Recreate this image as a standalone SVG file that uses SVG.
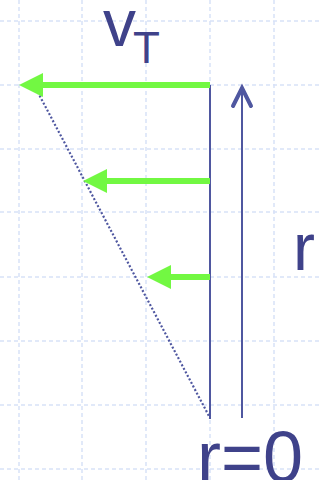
<svg xmlns="http://www.w3.org/2000/svg" width="320" height="480" viewBox="0 0 320 480">
<style>
.grid{stroke:#d8e2f8;stroke-width:1.5;stroke-dasharray:4 3;fill:none}
.blue{stroke:#4f57a0;fill:none}
.green{fill:#72f842}
.txt{font-family:"Liberation Sans",Arial,sans-serif;fill:#3f428a}
</style>
<rect width="320" height="480" fill="#ffffff"/>
<g id="grid">
<path class="grid" d="M19 0V480M82 0V480M146 0V480M210 0V480M274 0V480M0 21H320M0 85H320M0 149H320M0 212H320M0 277H320M0 341H320M0 405H320M0 469H320"/>
</g>
<g id="connectors">
<line class="blue" x1="210" y1="85" x2="210" y2="419" stroke-width="2"/>
<line class="blue" x1="34" y1="85" x2="210" y2="418" stroke-width="2.2" stroke-dasharray="2 2"/>
<line class="blue" x1="242" y1="418" x2="242" y2="88" stroke-width="2"/>
<polyline class="blue" points="233,106 242,88 251,106" stroke-width="4" stroke-linecap="round" stroke-linejoin="miter"/>
</g>
<g id="arrow1">
<rect class="green" x="40" y="82" width="170" height="6"/>
<polygon class="green" points="19,85 43,73 43,97"/>
</g>
<g id="arrow2">
<rect class="green" x="104" y="178" width="106" height="6"/>
<polygon class="green" points="83,181 107,169 107,193"/>
</g>
<g id="arrow3">
<rect class="green" x="168" y="274" width="42" height="6"/>
<polygon class="green" points="147,277 171,265 171,289"/>
</g>
<g id="labels">
<text class="txt" x="103" y="46" font-size="66">v</text>
<text class="txt" x="133" y="63" font-size="44">T</text>
<text class="txt" x="293" y="270" font-size="66">r</text>
<text class="txt" x="197" y="482" font-size="72">r=0</text>
</g>
</svg>
